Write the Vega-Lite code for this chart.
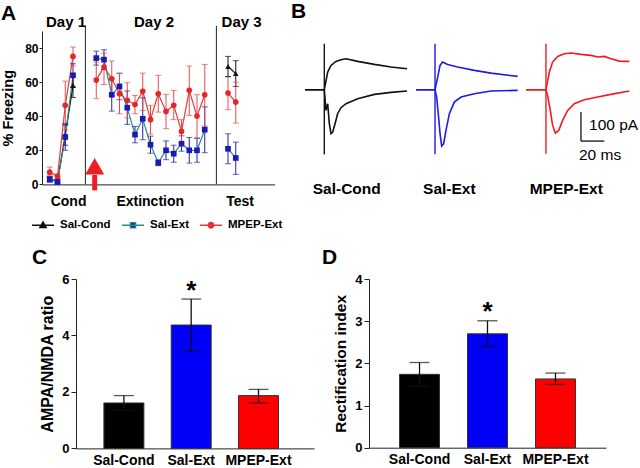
{
  "$schema": "https://vega.github.io/schema/vega-lite/v6.json",
  "padding": {"left": 0, "top": 1, "right": 0, "bottom": 0},
  "background": "white",
  "config": {
    "view": {"stroke": null},
    "font": "Liberation Sans",
    "axis": {"labelFont": "Liberation Sans", "titleFont": "Liberation Sans", "labelFontWeight": "bold", "titleFontWeight": "bold", "labelColor": "#000", "titleColor": "#000", "domainColor": "#222", "tickColor": "#222", "grid": false, "labelOverlap": false},
    "title": {"font": "Liberation Sans", "fontSize": 21, "fontWeight": "bold", "anchor": "start", "frame": "group", "color": "#000"},
    "text": {"font": "Liberation Sans", "color": "#000"}
  },
  "datasets": {
    "freeze": [
      {"s": "Sal-Cond", "seg": "c", "x": 1, "y": 3, "lo": 1.5, "hi": 4.5},
      {"s": "Sal-Cond", "seg": "c", "x": 2, "y": 2, "lo": 1, "hi": 3},
      {"s": "Sal-Cond", "seg": "c", "x": 3, "y": 29, "lo": 23, "hi": 35},
      {"s": "Sal-Cond", "seg": "c", "x": 4, "y": 58, "lo": 51, "hi": 65},
      {"s": "Sal-Cond", "seg": "t", "x": 24, "y": 69.2, "lo": 63.3, "hi": 75.1},
      {"s": "Sal-Cond", "seg": "t", "x": 25, "y": 65.0, "lo": 57.5, "hi": 72.6},
      {"s": "Sal-Ext", "seg": "c", "x": 1, "y": 2.9, "lo": 1.5, "hi": 4.5},
      {"s": "Sal-Ext", "seg": "c", "x": 2, "y": 1.4, "lo": 0, "hi": 3},
      {"s": "Sal-Ext", "seg": "c", "x": 3, "y": 27.8, "lo": 20, "hi": 35.6},
      {"s": "Sal-Ext", "seg": "c", "x": 4, "y": 64, "lo": 57, "hi": 70.8},
      {"s": "Sal-Ext", "seg": "e", "x": 7, "y": 74.1, "lo": 70, "hi": 78.2},
      {"s": "Sal-Ext", "seg": "e", "x": 8, "y": 73.2, "lo": 67.4, "hi": 79},
      {"s": "Sal-Ext", "seg": "e", "x": 9, "y": 52.6, "lo": 43, "hi": 62},
      {"s": "Sal-Ext", "seg": "e", "x": 10, "y": 57.5, "lo": 49.7, "hi": 65.3},
      {"s": "Sal-Ext", "seg": "e", "x": 11, "y": 45.0, "lo": 35.2, "hi": 54.8},
      {"s": "Sal-Ext", "seg": "e", "x": 12, "y": 29.2, "lo": 24.4, "hi": 34},
      {"s": "Sal-Ext", "seg": "e", "x": 13, "y": 38.5, "lo": 26.2, "hi": 50.8},
      {"s": "Sal-Ext", "seg": "e", "x": 14, "y": 23.3, "lo": 18.3, "hi": 28.3},
      {"s": "Sal-Ext", "seg": "e", "x": 15, "y": 12.7, "lo": 11, "hi": 14.4},
      {"s": "Sal-Ext", "seg": "e", "x": 16, "y": 20.0, "lo": 14.5, "hi": 25.5},
      {"s": "Sal-Ext", "seg": "e", "x": 17, "y": 18.0, "lo": 13, "hi": 23},
      {"s": "Sal-Ext", "seg": "e", "x": 18, "y": 23.9, "lo": 19.5, "hi": 28.5},
      {"s": "Sal-Ext", "seg": "e", "x": 19, "y": 20.0, "lo": 12.5, "hi": 27.5},
      {"s": "Sal-Ext", "seg": "e", "x": 20, "y": 20.0, "lo": 13, "hi": 27},
      {"s": "Sal-Ext", "seg": "e", "x": 21, "y": 32.1, "lo": 18.6, "hi": 45.5},
      {"s": "Sal-Ext", "seg": "t", "x": 24, "y": 20.9, "lo": 12.1, "hi": 29.7},
      {"s": "Sal-Ext", "seg": "t", "x": 25, "y": 15.5, "lo": 5.9, "hi": 24.8},
      {"s": "MPEP-Ext", "seg": "c", "x": 1, "y": 7.2, "lo": 5.3, "hi": 10.2},
      {"s": "MPEP-Ext", "seg": "c", "x": 2, "y": 4.8, "lo": 3.5, "hi": 6.2},
      {"s": "MPEP-Ext", "seg": "c", "x": 3, "y": 46.4, "lo": 32, "hi": 60.6},
      {"s": "MPEP-Ext", "seg": "c", "x": 4, "y": 75.1, "lo": 69.5, "hi": 80.6},
      {"s": "MPEP-Ext", "seg": "e", "x": 7, "y": 61.2, "lo": 50.3, "hi": 71.7},
      {"s": "MPEP-Ext", "seg": "e", "x": 8, "y": 68.9, "lo": 58.6, "hi": 77},
      {"s": "MPEP-Ext", "seg": "e", "x": 9, "y": 62.0, "lo": 52, "hi": 72.4},
      {"s": "MPEP-Ext", "seg": "e", "x": 10, "y": 53.2, "lo": 41.5, "hi": 65},
      {"s": "MPEP-Ext", "seg": "e", "x": 11, "y": 49.3, "lo": 39, "hi": 59.7},
      {"s": "MPEP-Ext", "seg": "e", "x": 12, "y": 46.9, "lo": 41.5, "hi": 52.2},
      {"s": "MPEP-Ext", "seg": "e", "x": 13, "y": 54.6, "lo": 43.4, "hi": 65.3},
      {"s": "MPEP-Ext", "seg": "e", "x": 14, "y": 38.0, "lo": 29.5, "hi": 46.4},
      {"s": "MPEP-Ext", "seg": "e", "x": 15, "y": 53.2, "lo": 42.4, "hi": 64},
      {"s": "MPEP-Ext", "seg": "e", "x": 16, "y": 42.8, "lo": 32.7, "hi": 52.8},
      {"s": "MPEP-Ext", "seg": "e", "x": 17, "y": 46.4, "lo": 38, "hi": 55.2},
      {"s": "MPEP-Ext", "seg": "e", "x": 18, "y": 31.1, "lo": 24.5, "hi": 38},
      {"s": "MPEP-Ext", "seg": "e", "x": 19, "y": 55.2, "lo": 40.5, "hi": 69.4},
      {"s": "MPEP-Ext", "seg": "e", "x": 20, "y": 40.1, "lo": 27.4, "hi": 52.6},
      {"s": "MPEP-Ext", "seg": "e", "x": 21, "y": 52.6, "lo": 34.2, "hi": 70.4},
      {"s": "MPEP-Ext", "seg": "t", "x": 24, "y": 53.6, "lo": 43.8, "hi": 63},
      {"s": "MPEP-Ext", "seg": "t", "x": 25, "y": 48.3, "lo": 36, "hi": 60}
    ],
    "seps": [{"x": 5.6, "y0": 0, "y1": 93}, {"x": 22.5, "y0": 0, "y1": 93}],
    "days": [{"x": 3.1, "y": 92.1, "label": "Day 1"}, {"x": 14.45, "y": 92.1, "label": "Day 2"}, {"x": 25.75, "y": 92.1, "label": "Day 3"}],
    "arrow": [{"x": 6.8, "y0": -3.5, "y1": 5.5, "ty": 10.6}],
    "traces": [
      {"g": "Sal-Cond", "k": "SCu", "t": 5.1, "v": 0}, {"g": "Sal-Cond", "k": "SCu", "t": 21.7, "v": 0}, {"g": "Sal-Cond", "k": "SCu", "t": 24.6, "v": 60.9}, {"g": "Sal-Cond", "k": "SCu", "t": 27.4, "v": 83.8}, {"g": "Sal-Cond", "k": "SCu", "t": 31.7, "v": 97.6}, {"g": "Sal-Cond", "k": "SCu", "t": 36, "v": 103.4}, {"g": "Sal-Cond", "k": "SCu", "t": 40.3, "v": 106.9}, {"g": "Sal-Cond", "k": "SCu", "t": 50.3, "v": 97.6}, {"g": "Sal-Cond", "k": "SCu", "t": 64.6, "v": 87.2}, {"g": "Sal-Cond", "k": "SCu", "t": 78.9, "v": 78.2}, {"g": "Sal-Cond", "k": "SCu", "t": 92.6, "v": 72.4},
      {"g": "Sal-Cond", "k": "SCd", "t": 5.1, "v": 0}, {"g": "Sal-Cond", "k": "SCd", "t": 21.7, "v": 0}, {"g": "Sal-Cond", "k": "SCd", "t": 23.1, "v": -71.4}, {"g": "Sal-Cond", "k": "SCd", "t": 24.6, "v": -48.3}, {"g": "Sal-Cond", "k": "SCd", "t": 26, "v": -117.2}, {"g": "Sal-Cond", "k": "SCd", "t": 27.4, "v": -151.7}, {"g": "Sal-Cond", "k": "SCd", "t": 28.9, "v": -146.1}, {"g": "Sal-Cond", "k": "SCd", "t": 30.9, "v": -117.2}, {"g": "Sal-Cond", "k": "SCd", "t": 33.1, "v": -82.8}, {"g": "Sal-Cond", "k": "SCd", "t": 36, "v": -62.1}, {"g": "Sal-Cond", "k": "SCd", "t": 40.3, "v": -48.3}, {"g": "Sal-Cond", "k": "SCd", "t": 50.3, "v": -31}, {"g": "Sal-Cond", "k": "SCd", "t": 64.6, "v": -16.2}, {"g": "Sal-Cond", "k": "SCd", "t": 78.9, "v": -9.3}, {"g": "Sal-Cond", "k": "SCd", "t": 92.6, "v": -4.6},
      {"g": "Sal-Ext", "k": "SEu", "t": 100.3, "v": 0}, {"g": "Sal-Ext", "k": "SEu", "t": 116.6, "v": 0}, {"g": "Sal-Ext", "k": "SEu", "t": 118.9, "v": 43.4}, {"g": "Sal-Ext", "k": "SEu", "t": 120.9, "v": 83.8}, {"g": "Sal-Ext", "k": "SEu", "t": 123.1, "v": 95.2}, {"g": "Sal-Ext", "k": "SEu", "t": 127.4, "v": 87.2}, {"g": "Sal-Ext", "k": "SEu", "t": 136, "v": 78.2}, {"g": "Sal-Ext", "k": "SEu", "t": 150.3, "v": 66.6}, {"g": "Sal-Ext", "k": "SEu", "t": 164.6, "v": 57.2}, {"g": "Sal-Ext", "k": "SEu", "t": 187.4, "v": 45.9},
      {"g": "Sal-Ext", "k": "SEd", "t": 100.3, "v": 0}, {"g": "Sal-Ext", "k": "SEd", "t": 116.6, "v": 0}, {"g": "Sal-Ext", "k": "SEd", "t": 118, "v": -25.3}, {"g": "Sal-Ext", "k": "SEd", "t": 119.4, "v": -82.8}, {"g": "Sal-Ext", "k": "SEd", "t": 120.9, "v": -151.7}, {"g": "Sal-Ext", "k": "SEd", "t": 122.3, "v": -194.3}, {"g": "Sal-Ext", "k": "SEd", "t": 124, "v": -186.2}, {"g": "Sal-Ext", "k": "SEd", "t": 126, "v": -140.3}, {"g": "Sal-Ext", "k": "SEd", "t": 128.9, "v": -82.8}, {"g": "Sal-Ext", "k": "SEd", "t": 133.1, "v": -42.8}, {"g": "Sal-Ext", "k": "SEd", "t": 138.9, "v": -25.3}, {"g": "Sal-Ext", "k": "SEd", "t": 150.3, "v": -13.8}, {"g": "Sal-Ext", "k": "SEd", "t": 164.6, "v": -4.6}, {"g": "Sal-Ext", "k": "SEd", "t": 187.4, "v": -2.3},
      {"g": "MPEP-Ext", "k": "MEu", "t": 194.6, "v": 0}, {"g": "MPEP-Ext", "k": "MEu", "t": 211.7, "v": 0}, {"g": "MPEP-Ext", "k": "MEu", "t": 214.6, "v": 60.9}, {"g": "MPEP-Ext", "k": "MEu", "t": 217.4, "v": 95.2}, {"g": "MPEP-Ext", "k": "MEu", "t": 221.7, "v": 114.8}, {"g": "MPEP-Ext", "k": "MEu", "t": 227.4, "v": 124}, {"g": "MPEP-Ext", "k": "MEu", "t": 233.1, "v": 126.3}, {"g": "MPEP-Ext", "k": "MEu", "t": 241.7, "v": 121.7}, {"g": "MPEP-Ext", "k": "MEu", "t": 250.3, "v": 118.3}, {"g": "MPEP-Ext", "k": "MEu", "t": 256, "v": 112.6}, {"g": "MPEP-Ext", "k": "MEu", "t": 261.7, "v": 114.8}, {"g": "MPEP-Ext", "k": "MEu", "t": 267.4, "v": 106.9}, {"g": "MPEP-Ext", "k": "MEu", "t": 274.6, "v": 98.6}, {"g": "MPEP-Ext", "k": "MEu", "t": 283.1, "v": 97.6},
      {"g": "MPEP-Ext", "k": "MEd", "t": 194.6, "v": 0}, {"g": "MPEP-Ext", "k": "MEd", "t": 211.7, "v": 0}, {"g": "MPEP-Ext", "k": "MEd", "t": 213.1, "v": -19.7}, {"g": "MPEP-Ext", "k": "MEd", "t": 215.4, "v": -71.4}, {"g": "MPEP-Ext", "k": "MEd", "t": 217.4, "v": -123.1}, {"g": "MPEP-Ext", "k": "MEd", "t": 219.7, "v": -149.7}, {"g": "MPEP-Ext", "k": "MEd", "t": 222.6, "v": -140.3}, {"g": "MPEP-Ext", "k": "MEd", "t": 226, "v": -105.9}, {"g": "MPEP-Ext", "k": "MEd", "t": 230.3, "v": -71.4}, {"g": "MPEP-Ext", "k": "MEd", "t": 236, "v": -48.3}, {"g": "MPEP-Ext", "k": "MEd", "t": 244.6, "v": -34.5}, {"g": "MPEP-Ext", "k": "MEd", "t": 256, "v": -25.3}, {"g": "MPEP-Ext", "k": "MEd", "t": 267.4, "v": -16.2}, {"g": "MPEP-Ext", "k": "MEd", "t": 283.1, "v": -4.6}
    ],
    "artifacts": [{"g": "Sal-Cond", "t": 21.7, "y0": -223, "y1": 158.6}, {"g": "Sal-Ext", "t": 116.6, "y0": -223, "y1": 158.6}, {"g": "MPEP-Ext", "t": 211.7, "y0": -221, "y1": 158.6}],
    "scalebar": [{"x0": 241.7, "x1": 241.7, "y0": -77.2, "y1": -177.2}, {"x0": 241.7, "x1": 261.7, "y0": -177.2, "y1": -177.2}],
    "blabels": [{"t": 40.9, "v": -343.8, "label": "Sal-Cond"}, {"t": 128.9, "v": -343.8, "label": "Sal-Ext"}, {"t": 229.1, "v": -343.8, "label": "MPEP-Ext"}],
    "slabels": [{"t": 248.6, "v": -123.1, "label": "100 pA"}, {"t": 240, "v": -226.6, "label": "20 ms"}],
    "ampa": [{"g": "Sal-Cond", "v": 1.61, "lo": 1.36, "hi": 1.87}, {"g": "Sal-Ext", "v": 4.37, "lo": 3.44, "hi": 5.29}, {"g": "MPEP-Ext", "v": 1.87, "lo": 1.61, "hi": 2.09}],
    "ampastar": [{"g": "Sal-Ext", "sy": 5.3}],
    "rect": [{"g": "Sal-Cond", "v": 1.74, "lo": 1.46, "hi": 2.02}, {"g": "Sal-Ext", "v": 2.70, "lo": 2.40, "hi": 3.01}, {"g": "MPEP-Ext", "v": 1.63, "lo": 1.50, "hi": 1.77}],
    "rectstar": [{"g": "Sal-Ext", "sy": 3.02}]
  },
  "vconcat": [
    {
      "hconcat": [
        {
          "width": 232.5,
          "height": 153.4,
          "title": {"text": "A", "dx": -41, "offset": -9},
          "resolve": {"scale": {"color": "independent", "stroke": "independent", "shape": "independent"}},
          "layer": [
            {
              "data": {"name": "freeze"},
              "mark": {"type": "line", "strokeWidth": 1.2},
              "encoding": {
                "x": {"field": "x", "type": "quantitative", "scale": {"domain": [0, 30], "nice": false}, "axis": {"values": [3.36, 13.9, 25.5], "labelExpr": "datum.value < 8 ? 'Cond' : datum.value < 20 ? 'Extinction' : 'Test'", "ticks": false, "labelFontSize": 14, "labelPadding": 10, "title": null, "labelFlush": false, "labelOverlap": false}},
                "y": {"field": "y", "type": "quantitative", "scale": {"domain": [0, 90], "nice": false}, "axis": {"values": [0, 20, 40, 60, 80], "title": "% Freezing", "titleFontSize": 14.5, "labelFontSize": 12, "tickSize": 3, "labelPadding": 1, "titlePadding": 9, "labelOverlap": false}},
                "stroke": {"field": "s", "type": "nominal", "scale": {"domain": ["Sal-Cond", "Sal-Ext", "MPEP-Ext"], "range": ["#111111", "#2e8b8b", "#e23c3c"]}, "legend": null},
                "detail": {"field": "seg"}
              }
            },
            {
              "data": {"name": "seps"},
              "mark": {"type": "rule", "color": "#222", "strokeWidth": 1},
              "encoding": {
                "x": {"field": "x", "type": "quantitative", "axis": {"values": [3.36, 13.9, 25.5], "labelExpr": "datum.value < 8 ? 'Cond' : datum.value < 20 ? 'Extinction' : 'Test'", "ticks": false, "labelFontSize": 14, "labelPadding": 10, "title": null, "labelFlush": false, "labelOverlap": false}},
                "y": {"field": "y0", "type": "quantitative", "axis": {"values": [0, 20, 40, 60, 80], "title": "% Freezing", "titleFontSize": 14.5, "labelFontSize": 12, "tickSize": 3, "labelPadding": 1, "titlePadding": 9, "labelOverlap": false}},
                "y2": {"field": "y1"}
              }
            },
            {
              "data": {"name": "days"},
              "mark": {"type": "text", "fontSize": 15, "fontWeight": "bold", "align": "center", "baseline": "alphabetic"},
              "encoding": {
                "x": {"field": "x", "type": "quantitative", "axis": {"values": [3.36, 13.9, 25.5], "labelExpr": "datum.value < 8 ? 'Cond' : datum.value < 20 ? 'Extinction' : 'Test'", "ticks": false, "labelFontSize": 14, "labelPadding": 10, "title": null, "labelFlush": false, "labelOverlap": false}},
                "y": {"field": "y", "type": "quantitative", "axis": {"values": [0, 20, 40, 60, 80], "title": "% Freezing", "titleFontSize": 14.5, "labelFontSize": 12, "tickSize": 3, "labelPadding": 1, "titlePadding": 9, "labelOverlap": false}},
                "text": {"field": "label"}
              }
            },
            {
              "data": {"name": "freeze"},
              "mark": {"type": "rule", "strokeWidth": 1},
              "encoding": {
                "x": {"field": "x", "type": "quantitative", "axis": {"values": [3.36, 13.9, 25.5], "labelExpr": "datum.value < 8 ? 'Cond' : datum.value < 20 ? 'Extinction' : 'Test'", "ticks": false, "labelFontSize": 14, "labelPadding": 10, "title": null, "labelFlush": false, "labelOverlap": false}},
                "y": {"field": "lo", "type": "quantitative", "axis": {"values": [0, 20, 40, 60, 80], "title": "% Freezing", "titleFontSize": 14.5, "labelFontSize": 12, "tickSize": 3, "labelPadding": 1, "titlePadding": 9, "labelOverlap": false}},
                "y2": {"field": "hi"},
                "color": {"field": "s", "type": "nominal", "scale": {"domain": ["Sal-Cond", "Sal-Ext", "MPEP-Ext"], "range": ["#111111", "#23239a", "#e84a4a"]}, "legend": null}
              }
            },
            {
              "data": {"name": "freeze"},
              "mark": {"type": "tick", "orient": "horizontal", "size": 6, "thickness": 1},
              "encoding": {
                "x": {"field": "x", "type": "quantitative", "axis": {"values": [3.36, 13.9, 25.5], "labelExpr": "datum.value < 8 ? 'Cond' : datum.value < 20 ? 'Extinction' : 'Test'", "ticks": false, "labelFontSize": 14, "labelPadding": 10, "title": null, "labelFlush": false, "labelOverlap": false}},
                "y": {"field": "hi", "type": "quantitative", "axis": {"values": [0, 20, 40, 60, 80], "title": "% Freezing", "titleFontSize": 14.5, "labelFontSize": 12, "tickSize": 3, "labelPadding": 1, "titlePadding": 9, "labelOverlap": false}},
                "color": {"field": "s", "type": "nominal", "scale": {"domain": ["Sal-Cond", "Sal-Ext", "MPEP-Ext"], "range": ["#111111", "#23239a", "#e84a4a"]}, "legend": null}
              }
            },
            {
              "data": {"name": "freeze"},
              "mark": {"type": "tick", "orient": "horizontal", "size": 6, "thickness": 1},
              "encoding": {
                "x": {"field": "x", "type": "quantitative", "axis": {"values": [3.36, 13.9, 25.5], "labelExpr": "datum.value < 8 ? 'Cond' : datum.value < 20 ? 'Extinction' : 'Test'", "ticks": false, "labelFontSize": 14, "labelPadding": 10, "title": null, "labelFlush": false, "labelOverlap": false}},
                "y": {"field": "lo", "type": "quantitative", "axis": {"values": [0, 20, 40, 60, 80], "title": "% Freezing", "titleFontSize": 14.5, "labelFontSize": 12, "tickSize": 3, "labelPadding": 1, "titlePadding": 9, "labelOverlap": false}},
                "color": {"field": "s", "type": "nominal", "scale": {"domain": ["Sal-Cond", "Sal-Ext", "MPEP-Ext"], "range": ["#111111", "#23239a", "#e84a4a"]}, "legend": null}
              }
            },
            {
              "data": {"name": "freeze"},
              "mark": {"type": "point", "filled": true, "size": 32, "opacity": 1},
              "encoding": {
                "x": {"field": "x", "type": "quantitative", "axis": {"values": [3.36, 13.9, 25.5], "labelExpr": "datum.value < 8 ? 'Cond' : datum.value < 20 ? 'Extinction' : 'Test'", "ticks": false, "labelFontSize": 14, "labelPadding": 10, "title": null, "labelFlush": false, "labelOverlap": false}},
                "y": {"field": "y", "type": "quantitative", "axis": {"values": [0, 20, 40, 60, 80], "title": "% Freezing", "titleFontSize": 14.5, "labelFontSize": 12, "tickSize": 3, "labelPadding": 1, "titlePadding": 9, "labelOverlap": false}},
                "shape": {"field": "s", "type": "nominal", "scale": {"domain": ["Sal-Cond", "Sal-Ext", "MPEP-Ext"], "range": ["triangle-up", "square", "circle"]}, "legend": null},
                "color": {"field": "s", "type": "nominal", "scale": {"domain": ["Sal-Cond", "Sal-Ext", "MPEP-Ext"], "range": ["#111111", "#1a1ab8", "#e52626"]}, "legend": null}
              }
            },
            {
              "data": {"name": "arrow"},
              "mark": {"type": "rule", "color": "#ee1c25", "strokeWidth": 5},
              "encoding": {
                "x": {"field": "x", "type": "quantitative", "axis": {"values": [3.36, 13.9, 25.5], "labelExpr": "datum.value < 8 ? 'Cond' : datum.value < 20 ? 'Extinction' : 'Test'", "ticks": false, "labelFontSize": 14, "labelPadding": 10, "title": null, "labelFlush": false, "labelOverlap": false}},
                "y": {"field": "y0", "type": "quantitative", "axis": {"values": [0, 20, 40, 60, 80], "title": "% Freezing", "titleFontSize": 14.5, "labelFontSize": 12, "tickSize": 3, "labelPadding": 1, "titlePadding": 9, "labelOverlap": false}},
                "y2": {"field": "y1"}
              }
            },
            {
              "data": {"name": "arrow"},
              "mark": {"type": "point", "shape": "triangle-up", "filled": true, "size": 361, "color": "#ee1c25", "opacity": 1},
              "encoding": {
                "x": {"field": "x", "type": "quantitative", "axis": {"values": [3.36, 13.9, 25.5], "labelExpr": "datum.value < 8 ? 'Cond' : datum.value < 20 ? 'Extinction' : 'Test'", "ticks": false, "labelFontSize": 14, "labelPadding": 10, "title": null, "labelFlush": false, "labelOverlap": false}},
                "y": {"field": "ty", "type": "quantitative", "axis": {"values": [0, 20, 40, 60, 80], "title": "% Freezing", "titleFontSize": 14.5, "labelFontSize": 12, "tickSize": 3, "labelPadding": 1, "titlePadding": 9, "labelOverlap": false}}
              }
            },
            {
              "data": {"values": []},
              "mark": {"type": "point", "filled": true, "opacity": 1, "strokeWidth": 1.3},
              "encoding": {
                "color": {"field": "s", "type": "nominal", "scale": {"domain": ["Sal-Cond", "Sal-Ext", "MPEP-Ext"], "range": ["#111111", "#1a1ab8", "#e52626"]}, "legend": {"title": null, "orient": "none", "legendX": -11, "legendY": 182, "direction": "horizontal", "padding": 0, "labelFontSize": 11.5, "labelFontWeight": "bold", "labelFont": "Liberation Sans", "labelColor": "#000", "symbolSize": 484, "symbolStrokeWidth": 1.3, "labelOffset": 5, "columnPadding": 8}},
                "stroke": {"field": "s", "type": "nominal", "scale": {"domain": ["Sal-Cond", "Sal-Ext", "MPEP-Ext"], "range": ["#111111", "#2e8b8b", "#e23c3c"]}, "legend": {"title": null, "orient": "none", "legendX": -11, "legendY": 182, "direction": "horizontal", "padding": 0, "labelFontSize": 11.5, "labelFontWeight": "bold", "labelFont": "Liberation Sans", "labelColor": "#000", "symbolSize": 484, "symbolStrokeWidth": 1.3, "labelOffset": 5, "columnPadding": 8}},
                "shape": {"field": "s", "type": "nominal", "scale": {"domain": ["Sal-Cond", "Sal-Ext", "MPEP-Ext"], "range": ["M-1,0H1M0,-0.32L0.3,0.22L-0.3,0.22Z", "M-1,0H1M-0.24,-0.24H0.24V0.24H-0.24Z", "M-1,0H1M0.26,0A0.26,0.26,0,1,1,-0.26,0A0.26,0.26,0,1,1,0.26,0Z"]}, "legend": {"title": null, "orient": "none", "legendX": -11, "legendY": 182, "direction": "horizontal", "padding": 0, "labelFontSize": 11.5, "labelFontWeight": "bold", "labelFont": "Liberation Sans", "labelColor": "#000", "symbolSize": 484, "symbolStrokeWidth": 1.3, "labelOffset": 5, "columnPadding": 8}}
              }
            }
          ]
        },
        {
          "width": 341,
          "height": 167.4,
          "title": {"text": "B", "dx": -8, "offset": 9},
          "layer": [
            {
              "data": {"name": "traces"},
              "mark": {"type": "line", "strokeWidth": 1.6},
              "encoding": {
                "x": {"field": "t", "type": "quantitative", "scale": {"domain": [0, 292.3], "nice": false, "zero": false}, "axis": null},
                "y": {"field": "v", "type": "quantitative", "scale": {"domain": [-374.8, 202.4], "nice": false, "zero": false}, "axis": null},
                "color": {"field": "g", "type": "nominal", "scale": {"domain": ["Sal-Cond", "Sal-Ext", "MPEP-Ext"], "range": ["#111111", "#1c1ce0", "#ee1d1d"]}, "legend": null},
                "detail": {"field": "k"}
              }
            },
            {
              "data": {"name": "artifacts"},
              "mark": {"type": "rule", "strokeWidth": 1.4},
              "encoding": {
                "x": {"field": "t", "type": "quantitative", "axis": null},
                "y": {"field": "y0", "type": "quantitative", "axis": null},
                "y2": {"field": "y1"},
                "color": {"field": "g", "type": "nominal", "legend": null}
              }
            },
            {
              "data": {"name": "scalebar"},
              "mark": {"type": "rule", "strokeWidth": 1.3, "color": "#111"},
              "encoding": {
                "x": {"field": "x0", "type": "quantitative", "axis": null},
                "x2": {"field": "x1"},
                "y": {"field": "y0", "type": "quantitative", "axis": null},
                "y2": {"field": "y1"}
              }
            },
            {
              "data": {"name": "blabels"},
              "mark": {"type": "text", "fontSize": 15.5, "fontWeight": "bold", "align": "center", "baseline": "middle"},
              "encoding": {
                "x": {"field": "t", "type": "quantitative", "axis": null},
                "y": {"field": "v", "type": "quantitative", "axis": null},
                "text": {"field": "label"}
              }
            },
            {
              "data": {"name": "slabels"},
              "mark": {"type": "text", "fontSize": 15.5, "align": "left", "baseline": "middle"},
              "encoding": {
                "x": {"field": "t", "type": "quantitative", "axis": null},
                "y": {"field": "v", "type": "quantitative", "axis": null},
                "text": {"field": "label"}
              }
            }
          ]
        }
      ],
      "spacing": 8,
      "resolve": {"scale": {"color": "independent"}, "legend": {"color": "independent"}}
    },
    {
      "hconcat": [
        {
          "width": 238,
          "height": 169.4,
          "title": {"text": "C", "dx": -44, "offset": 5},
          "layer": [
            {
              "data": {"name": "ampa"},
              "mark": {"type": "bar", "stroke": "#333", "strokeWidth": 1},
              "encoding": {
                "x": {"field": "g", "type": "nominal", "sort": ["Sal-Cond", "Sal-Ext", "MPEP-Ext"], "scale": {"paddingInner": 0.406, "paddingOuter": 0.471, "align": 0.44}, "axis": {"title": null, "labelAngle": 0, "ticks": false, "labelFontSize": 14, "labelPadding": 5}},
                "y": {"field": "v", "type": "quantitative", "scale": {"domain": [0, 6], "nice": false}, "axis": {"values": [0, 2, 4, 6], "title": "AMPA/NMDA ratio", "titleFontSize": 16, "labelFontSize": 13, "tickSize": 5, "labelPadding": 2, "titlePadding": 6}},
                "color": {"field": "g", "type": "nominal", "scale": {"domain": ["Sal-Cond", "Sal-Ext", "MPEP-Ext"], "range": ["#000000", "#0000fa", "#ff0000"]}, "legend": null}
              }
            },
            {
              "data": {"name": "ampa"},
              "mark": {"type": "rule", "color": "#111", "strokeWidth": 1.3},
              "encoding": {
                "x": {"field": "g", "type": "nominal", "sort": ["Sal-Cond", "Sal-Ext", "MPEP-Ext"]},
                "y": {"field": "lo", "type": "quantitative"},
                "y2": {"field": "hi"}
              }
            },
            {
              "data": {"name": "ampa"},
              "mark": {"type": "tick", "orient": "horizontal", "size": 20, "thickness": 1.3, "color": "#111"},
              "encoding": {
                "x": {"field": "g", "type": "nominal", "sort": ["Sal-Cond", "Sal-Ext", "MPEP-Ext"]},
                "y": {"field": "hi", "type": "quantitative"}
              }
            },
            {
              "data": {"name": "ampa"},
              "mark": {"type": "tick", "orient": "horizontal", "size": 20, "thickness": 1.3, "color": "#111"},
              "encoding": {
                "x": {"field": "g", "type": "nominal", "sort": ["Sal-Cond", "Sal-Ext", "MPEP-Ext"]},
                "y": {"field": "lo", "type": "quantitative"}
              }
            },
            {
              "data": {"name": "ampastar"},
              "mark": {"type": "text", "text": "*", "fontSize": 26, "fontWeight": "bold", "align": "center", "baseline": "alphabetic"},
              "encoding": {
                "x": {"field": "g", "type": "nominal", "sort": ["Sal-Cond", "Sal-Ext", "MPEP-Ext"]},
                "y": {"field": "sy", "type": "quantitative"}
              }
            }
          ]
        },
        {
          "width": 237,
          "height": 168.7,
          "title": {"text": "D", "dx": -47, "offset": 5},
          "layer": [
            {
              "data": {"name": "rect"},
              "mark": {"type": "bar", "stroke": "#333", "strokeWidth": 1},
              "encoding": {
                "x": {"field": "g", "type": "nominal", "sort": ["Sal-Cond", "Sal-Ext", "MPEP-Ext"], "scale": {"paddingInner": 0.412, "paddingOuter": 0.449, "align": 0.5}, "axis": {"title": null, "labelAngle": 0, "ticks": false, "labelFontSize": 14, "labelPadding": 5}},
                "y": {"field": "v", "type": "quantitative", "scale": {"domain": [0, 4], "nice": false}, "axis": {"values": [0, 1, 2, 3, 4], "title": "Rectification index", "titleFontSize": 15.5, "labelFontSize": 13, "tickSize": 5, "labelPadding": 2, "titlePadding": 6}},
                "color": {"field": "g", "type": "nominal", "scale": {"domain": ["Sal-Cond", "Sal-Ext", "MPEP-Ext"], "range": ["#000000", "#0000fa", "#ff0000"]}, "legend": null}
              }
            },
            {
              "data": {"name": "rect"},
              "mark": {"type": "rule", "color": "#111", "strokeWidth": 1.3},
              "encoding": {
                "x": {"field": "g", "type": "nominal", "sort": ["Sal-Cond", "Sal-Ext", "MPEP-Ext"]},
                "y": {"field": "lo", "type": "quantitative"},
                "y2": {"field": "hi"}
              }
            },
            {
              "data": {"name": "rect"},
              "mark": {"type": "tick", "orient": "horizontal", "size": 20, "thickness": 1.3, "color": "#111"},
              "encoding": {
                "x": {"field": "g", "type": "nominal", "sort": ["Sal-Cond", "Sal-Ext", "MPEP-Ext"]},
                "y": {"field": "hi", "type": "quantitative"}
              }
            },
            {
              "data": {"name": "rect"},
              "mark": {"type": "tick", "orient": "horizontal", "size": 20, "thickness": 1.3, "color": "#111"},
              "encoding": {
                "x": {"field": "g", "type": "nominal", "sort": ["Sal-Cond", "Sal-Ext", "MPEP-Ext"]},
                "y": {"field": "lo", "type": "quantitative"}
              }
            },
            {
              "data": {"name": "rectstar"},
              "mark": {"type": "text", "text": "*", "fontSize": 26, "fontWeight": "bold", "align": "center", "baseline": "alphabetic"},
              "encoding": {
                "x": {"field": "g", "type": "nominal", "sort": ["Sal-Cond", "Sal-Ext", "MPEP-Ext"]},
                "y": {"field": "sy", "type": "quantitative"}
              }
            }
          ]
        }
      ],
      "spacing": 8,
      "resolve": {"scale": {"color": "independent"}, "legend": {"color": "independent"}}
    }
  ],
  "spacing": 16,
  "center": true,
  "resolve": {"scale": {"color": "independent"}, "legend": {"color": "independent"}}
}
